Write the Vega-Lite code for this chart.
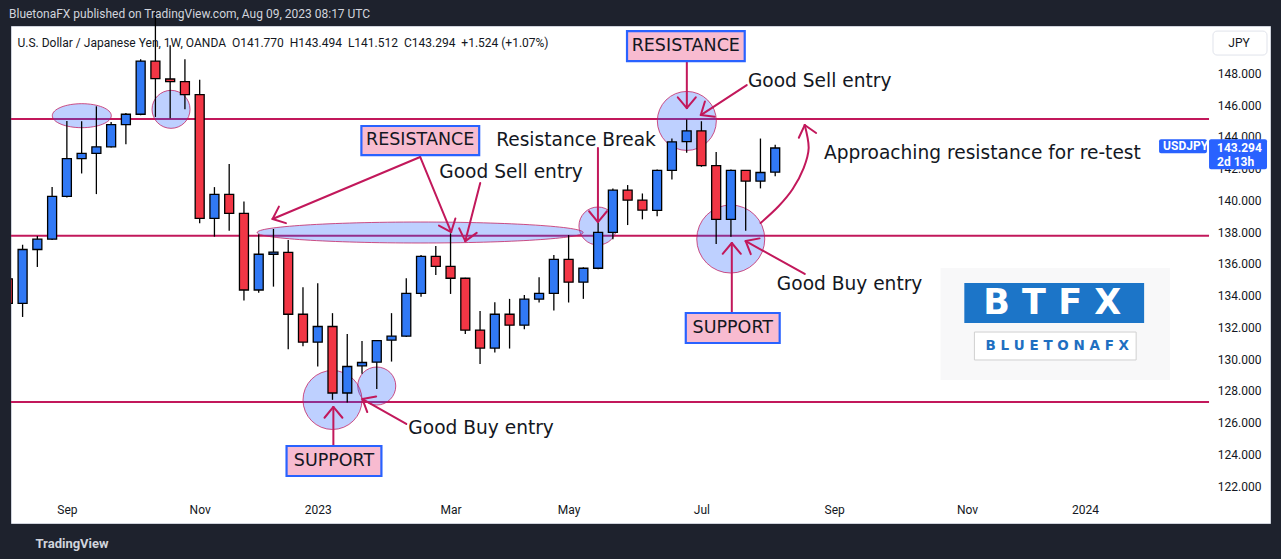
{
"$schema": "https://vega.github.io/schema/vega-lite/v6.json",
"width": 1259, "height": 497,
"autosize": {"type": "none"},
"padding": {"left": 11, "top": 26, "right": 11, "bottom": 36},
"background": "#1e222d",
"config": {"view": {"fill": "#ffffff", "stroke": "#cfd3dc", "strokeWidth": 1}, "font": "Roboto", "scale": {"continuousPadding": 0}},
"title": {"text": "BluetonaFX published on TradingView.com, Aug 09, 2023 08:17 UTC", "anchor": "start", "frame": "group", "orient": "top", "offset": -23, "dx": -2, "baseline": "bottom", "color": "#d1d4dc", "fontSize": 12, "fontWeight": "normal", "font": "Roboto"},
"resolve": {"axis": {"x": "independent", "y": "independent"}},
"datasets": {
"candles": [
{"d":"2022-08-08","o":135.05,"h":135.6,"l":131.7,"c":133.5},
{"d":"2022-08-15","o":133.5,"h":137.2,"l":132.65,"c":136.9},
{"d":"2022-08-22","o":136.9,"h":137.75,"l":135.8,"c":137.55},
{"d":"2022-08-29","o":137.55,"h":140.83,"l":137.5,"c":140.25},
{"d":"2022-09-05","o":140.25,"h":145.0,"l":140.18,"c":142.63},
{"d":"2022-09-12","o":142.63,"h":144.98,"l":141.69,"c":142.95},
{"d":"2022-09-19","o":142.95,"h":145.92,"l":140.39,"c":143.37},
{"d":"2022-09-26","o":143.37,"h":144.94,"l":143.33,"c":144.77},
{"d":"2022-10-03","o":144.77,"h":145.5,"l":143.53,"c":145.42},
{"d":"2022-10-10","o":145.42,"h":148.88,"l":145.36,"c":148.77},
{"d":"2022-10-17","o":148.77,"h":151.95,"l":145.25,"c":147.67},
{"d":"2022-10-24","o":147.64,"h":149.76,"l":145.17,"c":147.48},
{"d":"2022-10-31","o":147.48,"h":148.88,"l":145.74,"c":146.66},
{"d":"2022-11-07","o":146.66,"h":147.6,"l":138.55,"c":138.86},
{"d":"2022-11-14","o":138.86,"h":140.83,"l":137.71,"c":140.37},
{"d":"2022-11-21","o":140.37,"h":142.28,"l":138.08,"c":139.18},
{"d":"2022-11-28","o":139.18,"h":139.93,"l":133.68,"c":134.35},
{"d":"2022-12-05","o":134.35,"h":137.86,"l":134.18,"c":136.6},
{"d":"2022-12-12","o":136.6,"h":138.19,"l":134.56,"c":136.74},
{"d":"2022-12-19","o":136.72,"h":137.5,"l":130.62,"c":132.82},
{"d":"2022-12-26","o":132.82,"h":134.52,"l":130.8,"c":131.06},
{"d":"2023-01-02","o":131.06,"h":134.77,"l":129.53,"c":132.05},
{"d":"2023-01-09","o":132.05,"h":132.89,"l":127.43,"c":127.86},
{"d":"2023-01-16","o":127.86,"h":131.57,"l":127.26,"c":129.53},
{"d":"2023-01-23","o":129.57,"h":131.13,"l":129.07,"c":129.78},
{"d":"2023-01-30","o":129.8,"h":131.16,"l":128.11,"c":131.16},
{"d":"2023-02-06","o":131.19,"h":132.89,"l":129.84,"c":131.44},
{"d":"2023-02-13","o":131.44,"h":135.09,"l":131.38,"c":134.14},
{"d":"2023-02-20","o":134.14,"h":136.55,"l":133.93,"c":136.47},
{"d":"2023-02-27","o":136.47,"h":137.12,"l":135.3,"c":135.84},
{"d":"2023-03-06","o":135.84,"h":137.92,"l":134.1,"c":135.09},
{"d":"2023-03-13","o":135.09,"h":135.12,"l":131.58,"c":131.82},
{"d":"2023-03-20","o":131.82,"h":133.03,"l":129.68,"c":130.69},
{"d":"2023-03-27","o":130.69,"h":133.57,"l":130.41,"c":132.82},
{"d":"2023-04-03","o":132.82,"h":133.79,"l":130.66,"c":132.13},
{"d":"2023-04-10","o":132.13,"h":134.04,"l":131.87,"c":133.77},
{"d":"2023-04-17","o":133.77,"h":135.15,"l":133.56,"c":134.14},
{"d":"2023-04-24","o":134.14,"h":136.55,"l":133.05,"c":136.28},
{"d":"2023-05-01","o":136.28,"h":137.81,"l":133.56,"c":134.84},
{"d":"2023-05-08","o":134.84,"h":135.78,"l":133.79,"c":135.72},
{"d":"2023-05-15","o":135.72,"h":138.75,"l":135.66,"c":137.98},
{"d":"2023-05-22","o":137.98,"h":140.75,"l":137.54,"c":140.64},
{"d":"2023-05-29","o":140.64,"h":140.96,"l":138.44,"c":140.01},
{"d":"2023-06-05","o":140.01,"h":140.43,"l":138.8,"c":139.38},
{"d":"2023-06-12","o":139.36,"h":141.94,"l":139.0,"c":141.88},
{"d":"2023-06-19","o":141.88,"h":143.89,"l":141.31,"c":143.68},
{"d":"2023-06-26","o":143.7,"h":145.09,"l":142.99,"c":144.37},
{"d":"2023-07-03","o":144.37,"h":144.98,"l":142.11,"c":142.19},
{"d":"2023-07-10","o":142.19,"h":143.05,"l":137.25,"c":138.8},
{"d":"2023-07-17","o":138.8,"h":141.94,"l":137.71,"c":141.88},
{"d":"2023-07-24","o":141.88,"h":141.9,"l":138.08,"c":141.21},
{"d":"2023-07-31","o":141.21,"h":143.89,"l":140.75,"c":141.75},
{"d":"2023-08-07","o":141.77,"h":143.494,"l":141.512,"c":143.294}
],
"hlines": [
{"d":"2022-08-09T12:00:00Z","d2":"2024-02-28T19:00:00Z","p":145.12},
{"d":"2022-08-09T12:00:00Z","d2":"2024-02-28T19:00:00Z","p":137.77},
{"d":"2022-08-09T12:00:00Z","d2":"2024-02-28T19:00:00Z","p":127.3}
],
"ellipses": [
{"d":"2022-09-12T02:00:00Z","p":145.33,"kind":"e1"},
{"d":"2022-10-24T10:00:00Z","p":145.73,"kind":"s"},
{"d":"2023-02-19T14:00:00Z","p":137.97,"kind":"e2"},
{"d":"2023-01-09T00:00:00Z","p":127.42,"kind":"m"},
{"d":"2023-01-30T00:00:00Z","p":128.3,"kind":"s"},
{"d":"2023-05-14T22:00:00Z","p":138.38,"kind":"s"},
{"d":"2023-06-26T02:00:00Z","p":145.0,"kind":"m"},
{"d":"2023-07-16T22:00:00Z","p":137.56,"kind":"l"}
],
"segments": [
{"d":"2023-02-19T14:00:00Z","p":142.73,"d2":"2022-12-11T14:00:00Z","p2":138.82},
{"d":"2022-12-11T14:00:00Z","p":138.82,"d2":"2022-12-17T22:00:00Z","p2":138.56},
{"d":"2022-12-11T14:00:00Z","p":138.82,"d2":"2022-12-14T14:00:00Z","p2":139.6},
{"d":"2023-02-19T14:00:00Z","p":142.73,"d2":"2023-03-06T07:00:00Z","p2":138.0},
{"d":"2023-03-06T07:00:00Z","p":138.0,"d2":"2023-03-08T07:00:00Z","p2":138.85},
{"d":"2023-03-06T07:00:00Z","p":138.0,"d2":"2023-02-28T12:00:00Z","p2":138.41},
{"d":"2023-03-20T02:00:00Z","p":141.09,"d2":"2023-03-13T00:00:00Z","p2":137.43},
{"d":"2023-03-13T00:00:00Z","p":137.43,"d2":"2023-03-18T10:00:00Z","p2":137.95},
{"d":"2023-03-13T00:00:00Z","p":137.43,"d2":"2023-03-10T02:00:00Z","p2":138.23},
{"d":"2023-05-14T22:00:00Z","p":143.29,"d2":"2023-05-14T22:00:00Z","p2":138.63},
{"d":"2023-05-14T22:00:00Z","p":138.63,"d2":"2023-05-19T05:00:00Z","p2":139.31},
{"d":"2023-05-14T22:00:00Z","p":138.63,"d2":"2023-05-10T17:00:00Z","p2":139.31},
{"d":"2023-06-26T02:00:00Z","p":148.77,"d2":"2023-06-26T02:00:00Z","p2":145.81},
{"d":"2023-06-26T02:00:00Z","p":145.81,"d2":"2023-06-30T08:00:00Z","p2":146.49},
{"d":"2023-06-26T02:00:00Z","p":145.81,"d2":"2023-06-21T19:00:00Z","p2":146.49},
{"d":"2023-07-24T12:00:00Z","p":147.26,"d2":"2023-07-02T17:00:00Z","p2":145.37},
{"d":"2023-07-02T17:00:00Z","p":145.37,"d2":"2023-07-09T07:00:00Z","p2":145.27},
{"d":"2023-07-02T17:00:00Z","p":145.37,"d2":"2023-07-04T16:00:00Z","p2":146.22},
{"d":"2023-08-21T00:00:00Z","p":144.74,"d2":"2023-08-18T05:00:00Z","p2":143.94},
{"d":"2023-08-21T00:00:00Z","p":144.74,"d2":"2023-08-26T10:00:00Z","p2":144.24},
{"d":"2023-01-09T10:00:00Z","p":124.52,"d2":"2023-01-09T10:00:00Z","p2":126.98},
{"d":"2023-01-09T10:00:00Z","p":126.98,"d2":"2023-01-05T05:00:00Z","p2":126.3},
{"d":"2023-01-09T10:00:00Z","p":126.98,"d2":"2023-01-13T17:00:00Z","p2":126.3},
{"d":"2023-02-13T00:00:00Z","p":125.91,"d2":"2023-01-23T05:00:00Z","p2":127.48},
{"d":"2023-01-23T05:00:00Z","p":127.48,"d2":"2023-01-25T12:00:00Z","p2":126.66},
{"d":"2023-01-23T05:00:00Z","p":127.48,"d2":"2023-01-29T17:00:00Z","p2":127.64},
{"d":"2023-07-17T10:00:00Z","p":132.9,"d2":"2023-07-17T10:00:00Z","p2":137.31},
{"d":"2023-07-17T10:00:00Z","p":137.31,"d2":"2023-07-13T02:00:00Z","p2":136.63},
{"d":"2023-07-17T10:00:00Z","p":137.31,"d2":"2023-07-21T17:00:00Z","p2":136.63},
{"d":"2023-08-21T00:00:00Z","p":135.36,"d2":"2023-07-24T00:00:00Z","p2":137.43},
{"d":"2023-07-24T00:00:00Z","p":137.43,"d2":"2023-07-26T10:00:00Z","p2":136.61},
{"d":"2023-07-24T00:00:00Z","p":137.43,"d2":"2023-07-30T14:00:00Z","p2":137.6}
],
"curve": [
{"d":"2023-07-31T02:00:00Z","p":138.57,"i":0},
{"d":"2023-08-08T17:00:00Z","p":139.64,"i":1},
{"d":"2023-08-15T07:00:00Z","p":140.71,"i":2},
{"d":"2023-08-20T12:00:00Z","p":142.03,"i":3},
{"d":"2023-08-22T21:00:00Z","p":143.29,"i":4},
{"d":"2023-08-21T00:00:00Z","p":144.74,"i":5}
],
"boxes": [
{"d":"2023-01-22T17:00:00Z","d2":"2023-03-19T14:00:00Z","p":144.68,"p2":142.85},
{"d":"2023-05-28T17:00:00Z","d2":"2023-07-23T13:00:00Z","p":150.66,"p2":148.77},
{"d":"2022-12-18T05:00:00Z","d2":"2023-02-01T05:00:00Z","p":124.52,"p2":122.63},
{"d":"2023-06-25T14:00:00Z","d2":"2023-08-09T03:00:00Z","p":132.9,"p2":131.01}
],
"boxtext": [
{"d":"2023-02-19T14:00:00Z","p":143.77,"text":"RESISTANCE"},
{"d":"2023-06-25T14:00:00Z","p":149.72,"text":"RESISTANCE"},
{"d":"2023-01-09T17:00:00Z","p":123.57,"text":"SUPPORT"},
{"d":"2023-07-17T21:00:00Z","p":131.95,"text":"SUPPORT"}
],
"notes": [
{"d":"2023-04-03T17:00:00Z","p":141.78,"text":"Good Sell entry"},
{"d":"2023-05-04T12:00:00Z","p":143.8,"text":"Resistance Break"},
{"d":"2023-08-28T02:00:00Z","p":147.51,"text":"Good Sell entry"},
{"d":"2023-11-13T07:00:00Z","p":142.98,"text":"Approaching resistance for re-test"},
{"d":"2023-03-20T12:00:00Z","p":125.65,"text":"Good Buy entry"},
{"d":"2023-09-11T07:00:00Z","p":134.73,"text":"Good Buy entry"}
],
"logobg": [{"d":"2023-10-24T10:00:00Z","d2":"2024-02-10T07:00:00Z","p":135.73,"p2":128.68}],
"logoblue": [{"d":"2023-11-04T17:00:00Z","d2":"2024-01-29T00:00:00Z","p":134.79,"p2":132.27}],
"logowhite": [{"d":"2023-11-09T12:00:00Z","d2":"2024-01-25T05:00:00Z","p":131.7,"p2":129.94}],
"logotext1": [{"d":"2023-12-16T10:00:00Z","p":133.53,"text":"B T F X"}],
"logotext2": [{"d":"2023-12-18T19:00:00Z","p":130.82,"text":"B L U E T O N A F X"}],
"header": [{"d":"2022-08-12T14:00:00Z","p":149.94,"text":"U.S. Dollar / Japanese Yen, 1W, OANDA \u00a0O141.770 \u00a0H143.494 \u00a0L141.512 \u00a0C143.294 \u00a0+1.524 (+1.07%)"}],
"tagrects": [
{"d":"2024-02-28T19:00:00Z","d2":"2024-03-27T07:00:00Z","p":143.84,"p2":141.95},
{"d":"2024-02-05T02:00:00Z","d2":"2024-02-27T19:00:00Z","p":143.84,"p2":142.96}
],
"tagtext": [
{"d":"2024-03-03T14:00:00Z","p":143.32,"text":"143.294"},
{"d":"2024-03-03T14:00:00Z","p":142.43,"text":"2d 13h"},
{"d":"2024-02-07T00:00:00Z","p":143.42,"text":"USDJPY"}
],
"jpybox": [{"d":"2024-03-01T16:00:00Z","d2":"2024-03-27T07:00:00Z","p":150.66,"p2":149.15}],
"jpytext": [{"d":"2024-03-14T00:00:00Z","p":149.91,"text":"JPY"}]
},
"layer": [
{"data": {"name": "hlines"}, "mark": {"type": "rule", "stroke": "#c2185b", "strokeWidth": 2},
 "encoding": {
  "x": {"field":"d","type":"temporal","scale":{"type":"utc","padding":0,"domain":[{"year":2022,"month":8,"date":9,"hours":12,"utc":true},{"year":2024,"month":3,"date":28,"hours":17,"utc":true}]},
   "axis": {"values": [{"year":2022,"month":9,"date":5,"utc":true},{"year":2022,"month":11,"date":7,"utc":true},{"year":2023,"month":1,"date":2,"utc":true},{"year":2023,"month":3,"date":6,"utc":true},{"year":2023,"month":5,"date":1,"utc":true},{"year":2023,"month":7,"date":3,"utc":true},{"year":2023,"month":9,"date":4,"utc":true},{"year":2023,"month":11,"date":6,"utc":true},{"year":2024,"month":1,"date":1,"utc":true}],
    "labelExpr": "utcFormat(datum.value,'%m')=='01' ? utcFormat(datum.value,'%Y') : utcFormat(datum.value,'%b')",
    "domain": false, "ticks": false, "tickSize": 0, "grid": false, "labelPadding": -19, "labelColor": "#131722", "labelFontSize": 12, "labelFont": "Roboto", "labelOverlap": false, "labelFlush": false, "labelBound": false,
    "title": "TradingView", "titleColor": "#d1d4dc", "titleFont": "Roboto", "titleFontSize": 13, "titleFontWeight": "bold", "titleAnchor": "start", "titleAlign": "left", "titleX": 24, "titleY": 20, "titleBaseline": "middle"}},
  "x2": {"field":"d2"},
  "y": {"field":"p","type":"quantitative","scale":{"domain":[119.67,150.98],"nice":false,"zero":false,"padding":0},
   "axis": {"orient": "right", "values": [122,124,126,128,130,132,134,136,138,140,142,144,146,148], "format": ".3f", "domain": false, "ticks": false, "tickSize": 0, "grid": false, "labelAlign": "right", "labelBaseline": "middle", "labelPadding": -9, "labelColor": "#131722", "labelFontSize": 12, "labelFont": "Roboto", "labelOverlap": false, "labelBound": false, "labelFlush": false, "title": null}}}},
{"data": {"name": "logobg"}, "mark": {"type": "rect", "fill": "#f8f8f9"},
 "encoding": {"x": {"field":"d","type":"temporal","scale":{"type":"utc","padding":0,"domain":[{"year":2022,"month":8,"date":9,"hours":12,"utc":true},{"year":2024,"month":3,"date":28,"hours":17,"utc":true}]},"axis":null},
  "x2": {"field":"d2"}, "y": {"field":"p","type":"quantitative","scale":{"domain":[119.67,150.98],"nice":false,"zero":false,"padding":0},"axis":null}, "y2": {"field":"p2"}}},
{"data": {"name": "ellipses"}, "transform": [{"filter": "datum.kind == 's'"}],
 "mark": {"type": "point", "shape": "circle", "size": 1444, "filled": true, "fill": "#2962ff", "fillOpacity": 0.3, "stroke": "#c2185b", "strokeOpacity": 0.75, "strokeWidth": 1},
 "encoding": {"x": {"field":"d","type":"temporal","scale":{"type":"utc","padding":0,"domain":[{"year":2022,"month":8,"date":9,"hours":12,"utc":true},{"year":2024,"month":3,"date":28,"hours":17,"utc":true}]},"axis":null},
  "y": {"field":"p","type":"quantitative","scale":{"domain":[119.67,150.98],"nice":false,"zero":false,"padding":0},"axis":null}}},
{"data": {"name": "ellipses"}, "transform": [{"filter": "datum.kind == 'm'"}],
 "mark": {"type": "point", "shape": "circle", "size": 3481, "filled": true, "fill": "#2962ff", "fillOpacity": 0.3, "stroke": "#c2185b", "strokeOpacity": 0.75, "strokeWidth": 1},
 "encoding": {"x": {"field":"d","type":"temporal","scale":{"type":"utc","padding":0,"domain":[{"year":2022,"month":8,"date":9,"hours":12,"utc":true},{"year":2024,"month":3,"date":28,"hours":17,"utc":true}]},"axis":null},
  "y": {"field":"p","type":"quantitative","scale":{"domain":[119.67,150.98],"nice":false,"zero":false,"padding":0},"axis":null}}},
{"data": {"name": "ellipses"}, "transform": [{"filter": "datum.kind == 'l'"}],
 "mark": {"type": "point", "shape": "circle", "size": 4624, "filled": true, "fill": "#2962ff", "fillOpacity": 0.3, "stroke": "#c2185b", "strokeOpacity": 0.75, "strokeWidth": 1},
 "encoding": {"x": {"field":"d","type":"temporal","scale":{"type":"utc","padding":0,"domain":[{"year":2022,"month":8,"date":9,"hours":12,"utc":true},{"year":2024,"month":3,"date":28,"hours":17,"utc":true}]},"axis":null},
  "y": {"field":"p","type":"quantitative","scale":{"domain":[119.67,150.98],"nice":false,"zero":false,"padding":0},"axis":null}}},
{"data": {"name": "ellipses"}, "transform": [{"filter": "datum.kind == 'e1'"}],
 "mark": {"type": "point", "shape": "M-1,0A1,0.407,0,1,1,1,0A1,0.407,0,1,1,-1,0Z", "size": 3481, "filled": true, "fill": "#2962ff", "fillOpacity": 0.3, "stroke": "#c2185b", "strokeOpacity": 0.75, "strokeWidth": 1},
 "encoding": {"x": {"field":"d","type":"temporal","scale":{"type":"utc","padding":0,"domain":[{"year":2022,"month":8,"date":9,"hours":12,"utc":true},{"year":2024,"month":3,"date":28,"hours":17,"utc":true}]},"axis":null},
  "y": {"field":"p","type":"quantitative","scale":{"domain":[119.67,150.98],"nice":false,"zero":false,"padding":0},"axis":null}}},
{"data": {"name": "ellipses"}, "transform": [{"filter": "datum.kind == 'e2'"}],
 "mark": {"type": "point", "shape": "M-1,0A1,0.0644,0,1,1,1,0A1,0.0644,0,1,1,-1,0Z", "size": 106276, "filled": true, "fill": "#2962ff", "fillOpacity": 0.3, "stroke": "#c2185b", "strokeOpacity": 0.75, "strokeWidth": 1},
 "encoding": {"x": {"field":"d","type":"temporal","scale":{"type":"utc","padding":0,"domain":[{"year":2022,"month":8,"date":9,"hours":12,"utc":true},{"year":2024,"month":3,"date":28,"hours":17,"utc":true}]},"axis":null},
  "y": {"field":"p","type":"quantitative","scale":{"domain":[119.67,150.98],"nice":false,"zero":false,"padding":0},"axis":null}}},
{"data": {"name": "candles"}, "transform": [{"filter": "time(datum.d) > 1660089600000"}],
 "mark": {"type": "rule", "stroke": "#000000", "strokeWidth": 1.3},
 "encoding": {"x": {"field":"d","type":"temporal","scale":{"type":"utc","padding":0,"domain":[{"year":2022,"month":8,"date":9,"hours":12,"utc":true},{"year":2024,"month":3,"date":28,"hours":17,"utc":true}]},"axis":null},
  "y": {"field":"l","type":"quantitative","scale":{"domain":[119.67,150.98],"nice":false,"zero":false,"padding":0},"axis":null}, "y2": {"field":"h"}}},
{"data": {"name": "candles"},
 "mark": {"type": "bar", "orient": "vertical", "size": 9, "stroke": "#000000", "strokeWidth": 1.3, "clip": true},
 "encoding": {"x": {"field":"d","type":"temporal","scale":{"type":"utc","padding":0,"domain":[{"year":2022,"month":8,"date":9,"hours":12,"utc":true},{"year":2024,"month":3,"date":28,"hours":17,"utc":true}]},"axis":null},
  "y": {"field":"o","type":"quantitative","scale":{"domain":[119.67,150.98],"nice":false,"zero":false,"padding":0},"axis":null}, "y2": {"field":"c"},
  "color": {"condition": {"test": "datum.c >= datum.o", "value": "#3179f5"}, "value": "#f23645"}}},
{"data": {"name": "segments"}, "mark": {"type": "rule", "stroke": "#c2185b", "strokeWidth": 2, "strokeCap": "round"},
 "encoding": {"x": {"field":"d","type":"temporal","scale":{"type":"utc","padding":0,"domain":[{"year":2022,"month":8,"date":9,"hours":12,"utc":true},{"year":2024,"month":3,"date":28,"hours":17,"utc":true}]},"axis":null},
  "x2": {"field":"d2"}, "y": {"field":"p","type":"quantitative","scale":{"domain":[119.67,150.98],"nice":false,"zero":false,"padding":0},"axis":null}, "y2": {"field":"p2"}}},
{"data": {"name": "curve"}, "mark": {"type": "line", "stroke": "#c2185b", "strokeWidth": 2, "interpolate": "cardinal", "strokeCap": "round"},
 "encoding": {"x": {"field":"d","type":"temporal","scale":{"type":"utc","padding":0,"domain":[{"year":2022,"month":8,"date":9,"hours":12,"utc":true},{"year":2024,"month":3,"date":28,"hours":17,"utc":true}]},"axis":null},
  "y": {"field":"p","type":"quantitative","scale":{"domain":[119.67,150.98],"nice":false,"zero":false,"padding":0},"axis":null}, "order": {"field": "i"}}},
{"data": {"name": "boxes"}, "mark": {"type": "rect", "fill": "#f8bbd0", "stroke": "#2962ff", "strokeWidth": 2.2},
 "encoding": {"x": {"field":"d","type":"temporal","scale":{"type":"utc","padding":0,"domain":[{"year":2022,"month":8,"date":9,"hours":12,"utc":true},{"year":2024,"month":3,"date":28,"hours":17,"utc":true}]},"axis":null},
  "x2": {"field":"d2"}, "y": {"field":"p","type":"quantitative","scale":{"domain":[119.67,150.98],"nice":false,"zero":false,"padding":0},"axis":null}, "y2": {"field":"p2"}}},
{"data": {"name": "boxtext"}, "mark": {"type": "text", "font": "DejaVu Sans", "fontSize": 17.5, "color": "#131722", "align": "center", "baseline": "middle"},
 "encoding": {"x": {"field":"d","type":"temporal","scale":{"type":"utc","padding":0,"domain":[{"year":2022,"month":8,"date":9,"hours":12,"utc":true},{"year":2024,"month":3,"date":28,"hours":17,"utc":true}]},"axis":null},
  "y": {"field":"p","type":"quantitative","scale":{"domain":[119.67,150.98],"nice":false,"zero":false,"padding":0},"axis":null}, "text": {"field": "text"}}},
{"data": {"name": "notes"}, "mark": {"type": "text", "font": "DejaVu Sans", "fontSize": 18.6, "color": "#131722", "align": "center", "baseline": "middle"},
 "encoding": {"x": {"field":"d","type":"temporal","scale":{"type":"utc","padding":0,"domain":[{"year":2022,"month":8,"date":9,"hours":12,"utc":true},{"year":2024,"month":3,"date":28,"hours":17,"utc":true}]},"axis":null},
  "y": {"field":"p","type":"quantitative","scale":{"domain":[119.67,150.98],"nice":false,"zero":false,"padding":0},"axis":null}, "text": {"field": "text"}}},
{"data": {"name": "logoblue"}, "mark": {"type": "rect", "fill": "#1c75c8"},
 "encoding": {"x": {"field":"d","type":"temporal","scale":{"type":"utc","padding":0,"domain":[{"year":2022,"month":8,"date":9,"hours":12,"utc":true},{"year":2024,"month":3,"date":28,"hours":17,"utc":true}]},"axis":null},
  "x2": {"field":"d2"}, "y": {"field":"p","type":"quantitative","scale":{"domain":[119.67,150.98],"nice":false,"zero":false,"padding":0},"axis":null}, "y2": {"field":"p2"}}},
{"data": {"name": "logowhite"}, "mark": {"type": "rect", "fill": "#ffffff", "stroke": "#d0d0d0", "strokeWidth": 1},
 "encoding": {"x": {"field":"d","type":"temporal","scale":{"type":"utc","padding":0,"domain":[{"year":2022,"month":8,"date":9,"hours":12,"utc":true},{"year":2024,"month":3,"date":28,"hours":17,"utc":true}]},"axis":null},
  "x2": {"field":"d2"}, "y": {"field":"p","type":"quantitative","scale":{"domain":[119.67,150.98],"nice":false,"zero":false,"padding":0},"axis":null}, "y2": {"field":"p2"}}},
{"data": {"name": "logotext1"}, "mark": {"type": "text", "font": "DejaVu Sans", "fontSize": 35, "fontWeight": "bold", "color": "#ffffff", "align": "center", "baseline": "middle"},
 "encoding": {"x": {"field":"d","type":"temporal","scale":{"type":"utc","padding":0,"domain":[{"year":2022,"month":8,"date":9,"hours":12,"utc":true},{"year":2024,"month":3,"date":28,"hours":17,"utc":true}]},"axis":null},
  "y": {"field":"p","type":"quantitative","scale":{"domain":[119.67,150.98],"nice":false,"zero":false,"padding":0},"axis":null}, "text": {"field": "text"}}},
{"data": {"name": "logotext2"}, "mark": {"type": "text", "font": "DejaVu Sans", "fontSize": 13.5, "fontWeight": "bold", "color": "#1f6fc1", "align": "center", "baseline": "middle"},
 "encoding": {"x": {"field":"d","type":"temporal","scale":{"type":"utc","padding":0,"domain":[{"year":2022,"month":8,"date":9,"hours":12,"utc":true},{"year":2024,"month":3,"date":28,"hours":17,"utc":true}]},"axis":null},
  "y": {"field":"p","type":"quantitative","scale":{"domain":[119.67,150.98],"nice":false,"zero":false,"padding":0},"axis":null}, "text": {"field": "text"}}},
{"data": {"name": "header"}, "mark": {"type": "text", "font": "Roboto", "fontSize": 12, "color": "#131722", "align": "left", "baseline": "middle"},
 "encoding": {"x": {"field":"d","type":"temporal","scale":{"type":"utc","padding":0,"domain":[{"year":2022,"month":8,"date":9,"hours":12,"utc":true},{"year":2024,"month":3,"date":28,"hours":17,"utc":true}]},"axis":null},
  "y": {"field":"p","type":"quantitative","scale":{"domain":[119.67,150.98],"nice":false,"zero":false,"padding":0},"axis":null}, "text": {"field": "text"}}},
{"data": {"name": "tagrects"}, "mark": {"type": "rect", "fill": "#2962ff", "cornerRadius": 2},
 "encoding": {"x": {"field":"d","type":"temporal","scale":{"type":"utc","padding":0,"domain":[{"year":2022,"month":8,"date":9,"hours":12,"utc":true},{"year":2024,"month":3,"date":28,"hours":17,"utc":true}]},"axis":null},
  "x2": {"field":"d2"}, "y": {"field":"p","type":"quantitative","scale":{"domain":[119.67,150.98],"nice":false,"zero":false,"padding":0},"axis":null}, "y2": {"field":"p2"}}},
{"data": {"name": "tagtext"}, "mark": {"type": "text", "font": "Roboto", "fontSize": 12, "fontWeight": "bold", "color": "#ffffff", "align": "left", "baseline": "middle"},
 "encoding": {"x": {"field":"d","type":"temporal","scale":{"type":"utc","padding":0,"domain":[{"year":2022,"month":8,"date":9,"hours":12,"utc":true},{"year":2024,"month":3,"date":28,"hours":17,"utc":true}]},"axis":null},
  "y": {"field":"p","type":"quantitative","scale":{"domain":[119.67,150.98],"nice":false,"zero":false,"padding":0},"axis":null}, "text": {"field": "text"}}},
{"data": {"name": "jpybox"}, "mark": {"type": "rect", "fill": "#ffffff", "stroke": "#e0e3eb", "strokeWidth": 1, "cornerRadius": 4},
 "encoding": {"x": {"field":"d","type":"temporal","scale":{"type":"utc","padding":0,"domain":[{"year":2022,"month":8,"date":9,"hours":12,"utc":true},{"year":2024,"month":3,"date":28,"hours":17,"utc":true}]},"axis":null},
  "x2": {"field":"d2"}, "y": {"field":"p","type":"quantitative","scale":{"domain":[119.67,150.98],"nice":false,"zero":false,"padding":0},"axis":null}, "y2": {"field":"p2"}}},
{"data": {"name": "jpytext"}, "mark": {"type": "text", "font": "Roboto", "fontSize": 12, "color": "#131722", "align": "center", "baseline": "middle"},
 "encoding": {"x": {"field":"d","type":"temporal","scale":{"type":"utc","padding":0,"domain":[{"year":2022,"month":8,"date":9,"hours":12,"utc":true},{"year":2024,"month":3,"date":28,"hours":17,"utc":true}]},"axis":null},
  "y": {"field":"p","type":"quantitative","scale":{"domain":[119.67,150.98],"nice":false,"zero":false,"padding":0},"axis":null}, "text": {"field": "text"}}}
]
}
